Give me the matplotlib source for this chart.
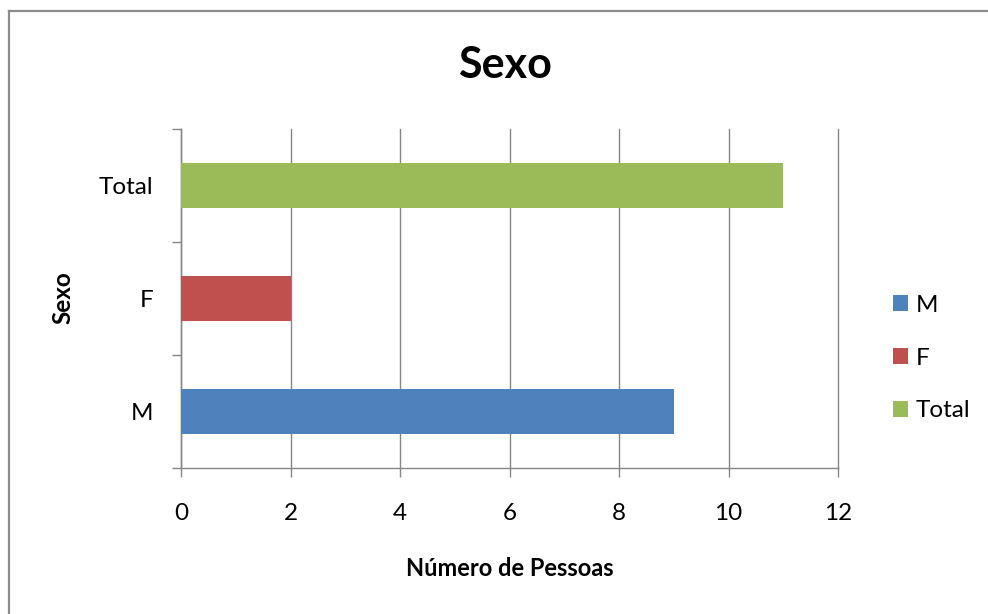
import matplotlib
matplotlib.use("Agg")
import matplotlib.pyplot as plt
from matplotlib.lines import Line2D

plt.rcParams['font.family'] = ['Lato', 'DejaVu Sans']

categories = ['M', 'F', 'Total']
values = [9, 2, 11]
colors = ['#4F81BD', '#C0504D', '#9BBB59']
xticks = [0, 2, 4, 6, 8, 10, 12]

W, H = 988, 614
fig = plt.figure(figsize=(W / 100, H / 100), dpi=100)
ax = fig.add_axes([181 / W, 1 - 468 / H, (838 - 181) / W, (468 - 129) / H])

gray = '#868686'
for i, (cat, val, col) in enumerate(zip(categories, values, colors)):
    ax.barh(i, val, height=0.4, color=col, label=cat, zorder=3)

ax.set_xlim(0, 12)
ax.set_ylim(-0.5, 2.5)
ax.set_xticks(xticks)
ax.set_xticklabels([str(t) for t in xticks])
ax.set_yticks(range(len(categories)))
ax.set_yticklabels(categories)
ax.set_yticks([-0.5, 0.5, 1.5, 2.5], minor=True)

ax.grid(axis='x', color=gray, linewidth=1.0, zorder=0)
ax.grid(axis='y', visible=False)
for gl in ax.get_xgridlines():
    gl.set_clip_on(False)
for s in ['top', 'right']:
    ax.spines[s].set_visible(False)
for s in ['left', 'bottom']:
    ax.spines[s].set_color(gray)
    ax.spines[s].set_linewidth(1.0)

ax.tick_params(axis='y', which='major', length=0, pad=20, labelsize=17.5, colors='#000000')
ax.tick_params(axis='y', which='minor', length=6.5, width=1.0, color=gray, direction='out')
ax.tick_params(axis='x', which='major', length=6.5, width=1.0, color=gray, direction='out',
               pad=19, labelsize=17.5, labelcolor='#000000')

fig.text(505 / W, 1 - 65 / H, 'Sexo', ha='center', va='center', fontsize=31, fontweight='bold')
fig.text(63 / W, 1 - 298 / H, 'Sexo', ha='center', va='center', rotation=90,
         fontsize=17.5, fontweight='bold')
fig.text(510 / W, 1 - 568 / H, 'Número de Pessoas', ha='center', va='center',
         fontsize=17, fontweight='bold')

leg = ax.legend(loc='center left', bbox_to_anchor=(893 / W, 1 - 358 / H),
                bbox_transform=fig.transFigure, frameon=False, fontsize=17.5,
                handlelength=0.63, handleheight=0.63, handletextpad=0.3,
                labelspacing=1.3, borderpad=0, borderaxespad=0)

fig.add_artist(Line2D([9 / W, 9 / W], [0, 1 - 11 / H], color='#8c8c8c', linewidth=1.6))
fig.add_artist(Line2D([9 / W, 1], [1 - 11 / H, 1 - 11 / H], color='#8c8c8c', linewidth=1.6))

fig.savefig('out.png', dpi=100)
